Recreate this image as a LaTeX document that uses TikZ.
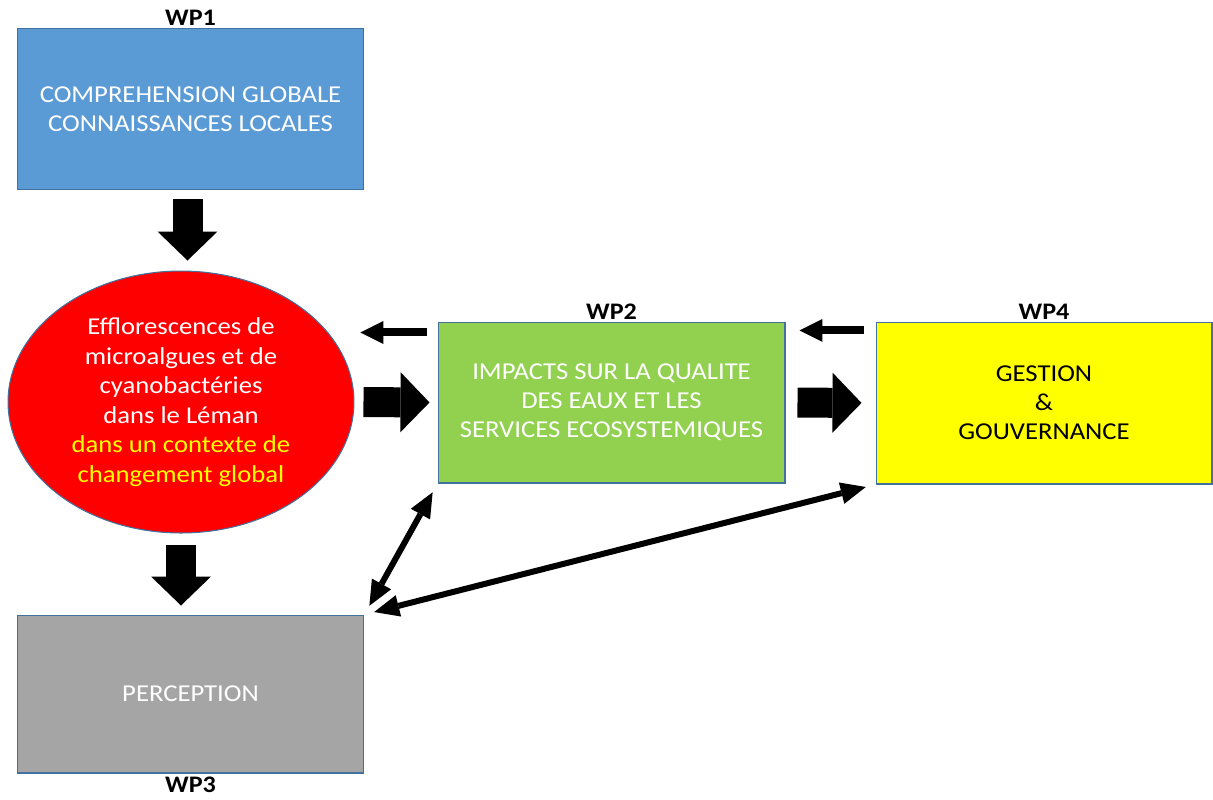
\documentclass[tikz,border=0pt]{standalone}
\usepackage{fontspec}
\setmainfont[FakeStretch=1.1]{Carlito}
\usetikzlibrary{arrows.meta,shapes.geometric,positioning}
\definecolor{wpblue}{HTML}{5B9BD5}
\definecolor{wpgreen}{HTML}{92D050}
\definecolor{wpgrey}{HTML}{A5A5A5}
\definecolor{wpyellow}{HTML}{FFFF00}
\definecolor{rim}{HTML}{41719C}
\tikzset{
  wpbox/.style={draw=rim,line width=0.6pt,minimum width=6.94cm,minimum height=3.22cm,
    align=center,text=white,font=\fontsize{13.8}{16.6}\selectfont},
  wplabel/.style={font=\fontsize{13.5}{16}\selectfont\bfseries,inner sep=0pt},
  fat/.style={line width=0.6cm,-{Triangle[length=0.58cm,width=1.2cm,line width=0pt]}},
  back/.style={line width=0.16cm,-{Triangle[length=0.46cm,width=0.46cm,line width=0pt]}},
  dbl/.style={line width=0.12cm,
    {Triangle[length=0.5cm,width=0.44cm,line width=0pt]}-{Triangle[length=0.5cm,width=0.44cm,line width=0pt]}}
}
\begin{document}
\begin{tikzpicture}[x=0.02cm,y=-0.02cm]
         \useasboundingbox (0,0) rectangle (1213,799) ;
         % work packages
         \node[wpbox,fill=wpblue] (wp1) at (190.5,109)
           {COMPREHENSION GLOBALE\\CONNAISSANCES LOCALES} ;
         \node[ellipse,draw=rim,line width=0.6pt,fill=red,inner sep=0pt,
           minimum width=6.92cm,minimum height=5.24cm,align=center,text=white,
           font=\fontsize{13.8}{16.8}\selectfont] (bloom) at (181,402)
           {Efflorescences de\\microalgues et de\\cyanobactéries\\dans le Léman\\
            \textcolor{wpyellow}{dans un contexte de}\\\textcolor{wpyellow}{changement global}} ;
         \node[wpbox,fill=wpgreen] (wp2) at (611.5,402.5)
           {IMPACTS SUR LA QUALITE\\DES EAUX ET LES\\SERVICES ECOSYSTEMIQUES} ;
         \node[wpbox,fill=wpyellow,text=black,minimum width=6.72cm,minimum height=3.24cm] (wp4) at (1044,403)
           {GESTION\\\&\\GOUVERNANCE} ;
         \node[wpbox,fill=wpgrey,minimum height=3.16cm] (perc) at (190.5,694) {PERCEPTION} ;
         \node[wplabel,above=1pt of wp1] (wp1lbl) {WP1} ;
         \node[wplabel,above=1pt of wp2] (wp2lbl) {WP2} ;
         \node[wplabel,above=1pt of wp4] (wp4lbl) {WP4} ;
         \node[wplabel,below=1.5pt of perc] (wp3lbl) {WP3} ;
         % block arrows
         \draw[fat,shorten <=0.18cm,shorten >=0.2cm] ([xshift=-0.06cm]wp1.south) -- ([xshift=-0.06cm]wp1.south |- bloom.north) ;
         \draw[fat,shorten <=0.22cm,shorten >=0.18cm] (bloom.south) -- (bloom.south |- perc.north) ;
         \draw[fat,shorten <=0.18cm,shorten >=0.16cm] (bloom.east) -- (wp2.west) ;
         \draw[fat,shorten <=0.24cm,shorten >=0.28cm] (wp2.east) -- (wp4.west) ;
         % feedback arrows
         \coordinate (fb2) at ([yshift=-0.22cm]wp2.north west) ;
         \coordinate (fb4) at ([yshift=-0.18cm]wp4.north west) ;
         \draw[back,shorten <=0.22cm,shorten >=0.12cm] (fb2) -- (fb2 -| bloom.east) ;
         \draw[back,shorten <=0.24cm,shorten >=0.28cm] (fb4) -- (fb4 -| wp2.east) ;
         % links to perception
         \draw[dbl,shorten <=0.2cm,shorten >=0.2cm] (wp2.south west) -- (perc.north east) ;
         \draw[dbl,shorten <=0.2cm,shorten >=0.2cm] (wp4.south west) -- (perc.north east) ;
       \end{tikzpicture}
\end{document}
